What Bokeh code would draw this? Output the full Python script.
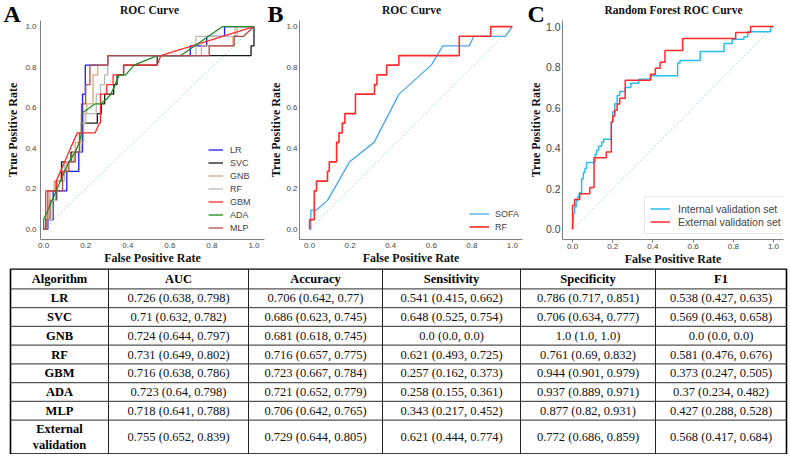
from bokeh.plotting import figure
from bokeh.layouts import row, column
from bokeh.models import Range1d, FixedTicker, Legend, LegendItem, PrintfTickFormatter, Title
from bokeh.core.properties import value
from bokeh.embed import file_html
from bokeh.resources import INLINE

TICKS = [0.0, 0.2, 0.4, 0.6, 0.8, 1.0]
DIAG = [0.0, 1.0]
PANEL_LETTERS = ["A", "B", "C"]
PANEL_TITLES = ["ROC Curve", "ROC Curve", "Random Forest ROC Curve"]

# ---------------- Panel A : ROC curves of the seven models ----------------
A_NAMES = ["LR", "SVC", "GNB", "RF", "GBM", "ADA", "MLP"]
LR_FPR = [0, 0.02, 0.02, 0.045, 0.045, 0.11, 0.11, 0.167, 0.167, 0.185, 0.185, 0.198, 0.198, 0.305, 0.305, 0.697, 0.697, 0.775, 0.775, 0.86, 0.86, 1.0]
LR_TPR = [0, 0, 0.048, 0.048, 0.19, 0.19, 0.286, 0.286, 0.381, 0.381, 0.667, 0.667, 0.81, 0.81, 0.857, 0.857, 0.905, 0.905, 0.952, 0.952, 1.0, 1.0]
SVC_FPR = [0, 0.01, 0.01, 0.03, 0.03, 0.06, 0.06, 0.085, 0.085, 0.13, 0.13, 0.18, 0.18, 0.255, 0.255, 0.274, 0.274, 0.29, 0.29, 0.333, 0.333, 0.349, 0.349, 0.38, 0.38, 0.54, 0.54, 0.986, 0.986, 1.0, 1.0]
SVC_TPR = [0, 0, 0.048, 0.048, 0.143, 0.143, 0.238, 0.238, 0.333, 0.333, 0.381, 0.381, 0.524, 0.524, 0.571, 0.571, 0.619, 0.619, 0.667, 0.667, 0.714, 0.714, 0.762, 0.762, 0.81, 0.81, 0.857, 0.857, 0.905, 0.905, 1.0]
GNB_FPR = [0, 0.01, 0.01, 0.03, 0.03, 0.05, 0.05, 0.08, 0.08, 0.11, 0.11, 0.15, 0.15, 0.19, 0.19, 0.205, 0.205, 0.235, 0.235, 0.257, 0.257, 0.305, 0.305, 0.75, 0.75, 0.9, 0.9, 0.92, 0.92, 1.0]
GNB_TPR = [0, 0, 0.048, 0.048, 0.19, 0.19, 0.238, 0.238, 0.286, 0.286, 0.333, 0.333, 0.429, 0.429, 0.571, 0.571, 0.619, 0.619, 0.762, 0.762, 0.81, 0.81, 0.857, 0.857, 0.905, 0.905, 0.952, 0.952, 1.0, 1.0]
RF_FPR = [0, 0.015, 0.015, 0.04, 0.04, 0.065, 0.065, 0.1, 0.1, 0.14, 0.14, 0.18, 0.18, 0.2, 0.2, 0.25, 0.25, 0.27, 0.27, 0.29, 0.29, 0.305, 0.305, 0.724, 0.724, 0.91, 0.91, 1.0]
RF_TPR = [0, 0, 0.048, 0.048, 0.143, 0.143, 0.238, 0.238, 0.333, 0.333, 0.381, 0.381, 0.524, 0.524, 0.571, 0.571, 0.667, 0.667, 0.714, 0.714, 0.762, 0.762, 0.857, 0.857, 0.952, 0.952, 1.0, 1.0]
GBM_FPR = [0, 0.01, 0.01, 0.06, 0.06, 0.08, 0.1, 0.12, 0.14, 0.16, 0.245, 0.265, 0.27, 0.27, 0.3, 0.3, 0.33, 0.33, 0.38, 0.38, 0.54, 0.557, 1.0]
GBM_TPR = [0, 0, 0.19, 0.19, 0.238, 0.286, 0.333, 0.381, 0.429, 0.476, 0.476, 0.524, 0.524, 0.667, 0.667, 0.714, 0.714, 0.762, 0.762, 0.81, 0.81, 0.857, 1.0]
ADA_FPR = [0, 0, 0.02, 0.04, 0.06, 0.08, 0.1, 0.12, 0.15, 0.17, 0.18, 0.18, 0.245, 0.27, 0.3, 0.32, 0.34, 0.36, 0.39, 0.43, 0.54, 0.652, 0.851, 1.0]
ADA_TPR = [0, 0.048, 0.095, 0.143, 0.19, 0.238, 0.286, 0.333, 0.381, 0.429, 0.476, 0.571, 0.619, 0.619, 0.643, 0.667, 0.714, 0.762, 0.762, 0.81, 0.857, 0.857, 1.0, 1.0]
MLP_FPR = [0, 0.01, 0.01, 0.02, 0.02, 0.09, 0.09, 0.12, 0.12, 0.15, 0.15, 0.17, 0.17, 0.18, 0.18, 0.2, 0.2, 0.22, 0.22, 0.305, 0.305, 0.787, 0.787, 0.906, 0.906, 0.95, 1.0]
MLP_TPR = [0, 0, 0.048, 0.048, 0.19, 0.19, 0.286, 0.286, 0.333, 0.333, 0.381, 0.381, 0.476, 0.476, 0.619, 0.619, 0.714, 0.714, 0.81, 0.81, 0.857, 0.857, 0.905, 0.905, 0.952, 0.952, 1.0]

# ---------------- Panel B : SOFA vs RF ----------------
B_NAMES = ["SOFA", "RF"]
SOFA_FPR = [0, 0.006, 0.006, 0.034, 0.088, 0.197, 0.318, 0.441, 0.6, 0.657, 0.787, 0.81, 0.966, 1.0]
SOFA_TPR = [0, 0, 0.095, 0.095, 0.143, 0.333, 0.429, 0.667, 0.81, 0.905, 0.905, 0.952, 0.952, 1.0]
RFB_FPR = [0, 0, 0.023, 0.023, 0.034, 0.034, 0.088, 0.088, 0.097, 0.097, 0.133, 0.133, 0.145, 0.145, 0.161, 0.161, 0.174, 0.174, 0.226, 0.226, 0.32, 0.32, 0.332, 0.332, 0.38, 0.38, 0.44, 0.44, 0.738, 0.738, 0.893, 0.893, 1.0]
RFB_TPR = [0, 0.048, 0.048, 0.19, 0.19, 0.238, 0.238, 0.286, 0.286, 0.333, 0.333, 0.429, 0.429, 0.476, 0.476, 0.524, 0.524, 0.571, 0.571, 0.667, 0.667, 0.714, 0.714, 0.762, 0.762, 0.81, 0.81, 0.857, 0.857, 0.952, 0.952, 1.0, 1.0]

# ---------------- Panel C : Random forest, internal vs external ----------------
C_NAMES = ["Internal validation set", "External validation set"]
INT_FPR = [0, 0.005, 0.01, 0.01, 0.018, 0.018, 0.025, 0.025, 0.033, 0.033, 0.045, 0.045, 0.054, 0.054, 0.062, 0.062, 0.07, 0.07, 0.112, 0.112, 0.12, 0.12, 0.13, 0.13, 0.145, 0.145, 0.155, 0.155, 0.193, 0.193, 0.2, 0.2, 0.21, 0.21, 0.222, 0.222, 0.235, 0.235, 0.262, 0.262, 0.29, 0.29, 0.33, 0.33, 0.39, 0.39, 0.523, 0.523, 0.535, 0.535, 0.635, 0.635, 0.754, 0.754, 0.795, 0.795, 0.853, 0.853, 0.872, 0.872, 0.986, 0.986, 1.0]
INT_TPR = [0, 0.08, 0.08, 0.11, 0.11, 0.14, 0.14, 0.16, 0.16, 0.18, 0.18, 0.25, 0.25, 0.28, 0.28, 0.30, 0.30, 0.33, 0.33, 0.37, 0.37, 0.39, 0.39, 0.41, 0.41, 0.43, 0.43, 0.445, 0.445, 0.53, 0.53, 0.58, 0.58, 0.62, 0.62, 0.66, 0.66, 0.68, 0.68, 0.70, 0.70, 0.72, 0.72, 0.74, 0.74, 0.757, 0.757, 0.82, 0.82, 0.833, 0.833, 0.877, 0.877, 0.917, 0.917, 0.937, 0.937, 0.95, 0.95, 0.974, 0.974, 1.0, 1.0]
EXT_FPR = [0, 0, 0.01, 0.01, 0.036, 0.036, 0.086, 0.086, 0.107, 0.107, 0.168, 0.168, 0.193, 0.193, 0.2, 0.2, 0.21, 0.21, 0.222, 0.222, 0.235, 0.235, 0.262, 0.262, 0.388, 0.388, 0.412, 0.412, 0.436, 0.436, 0.46, 0.46, 0.548, 0.548, 0.812, 0.812, 0.886, 0.886, 1.0]
EXT_TPR = [0, 0.118, 0.118, 0.147, 0.147, 0.176, 0.176, 0.206, 0.206, 0.353, 0.353, 0.382, 0.382, 0.529, 0.529, 0.559, 0.559, 0.588, 0.588, 0.618, 0.618, 0.647, 0.647, 0.735, 0.735, 0.765, 0.765, 0.794, 0.794, 0.824, 0.824, 0.882, 0.882, 0.941, 0.941, 0.971, 0.971, 1.0, 1.0]

# ---------------- Table ----------------
HEADERS = ["Algorithm", "AUC", "Accuracy", "Sensitivity", "Specificity", "F1"]
ALGOS = ["LR", "SVC", "GNB", "RF", "GBM", "ADA", "MLP", "External\nvalidation"]
AUC = ["0.726 (0.638, 0.798)", "0.71 (0.632, 0.782)", "0.724 (0.644, 0.797)", "0.731 (0.649, 0.802)",
       "0.716 (0.638, 0.786)", "0.723 (0.64, 0.798)", "0.718 (0.641, 0.788)", "0.755 (0.652, 0.839)"]
ACCURACY = ["0.706 (0.642, 0.77)", "0.686 (0.623, 0.745)", "0.681 (0.618, 0.745)", "0.716 (0.657, 0.775)",
            "0.723 (0.667, 0.784)", "0.721 (0.652, 0.779)", "0.706 (0.642, 0.765)", "0.729 (0.644, 0.805)"]
SENSITIVITY = ["0.541 (0.415, 0.662)", "0.648 (0.525, 0.754)", "0.0 (0.0, 0.0)", "0.621 (0.493, 0.725)",
               "0.257 (0.162, 0.373)", "0.258 (0.155, 0.361)", "0.343 (0.217, 0.452)", "0.621 (0.444, 0.774)"]
SPECIFICITY = ["0.786 (0.717, 0.851)", "0.706 (0.634, 0.777)", "1.0 (1.0, 1.0)", "0.761 (0.69, 0.832)",
               "0.944 (0.901, 0.979)", "0.937 (0.889, 0.971)", "0.877 (0.82, 0.931)", "0.772 (0.686, 0.859)"]
F1 = ["0.538 (0.427, 0.635)", "0.569 (0.463, 0.658)", "0.0 (0.0, 0.0)", "0.581 (0.476, 0.676)",
      "0.373 (0.247, 0.505)", "0.37 (0.234, 0.482)", "0.427 (0.288, 0.528)", "0.568 (0.417, 0.684)"]

SERIF = "Liberation Serif"
SANS = "Liberation Sans"

# layout constants (pixels)
TOTAL_W = 788
HEADER_STRIP_H = 28
HEADER_OVERLAP = 8
ROC_H = 248
ROC_BOTTOM = 29
PANEL_W = [266, 260, 262]
PANEL_LEFT = [40, 31, 35]
PANEL_RIGHT = [2, 4, 5]
TITLE_X = [149, 411, 673]
LETTER_X = [3, 267, 527]


def roc_figure(i, x_start, ytick_size="8px", ytick_gap=3, ytitle_gap=4, xtick_out=0):
    p = figure(width=PANEL_W[i], height=ROC_H, x_range=Range1d(x_start, 1.05), y_range=Range1d(-0.05, 1.03),
               output_backend="svg", toolbar_location=None,
               min_border_left=PANEL_LEFT[i], min_border_right=PANEL_RIGHT[i],
               min_border_top=0, min_border_bottom=ROC_BOTTOM)
    p.outline_line_color = None
    p.grid.visible = False
    p.background_fill_color = None
    p.border_fill_color = None
    for ax in (p.xaxis[0], p.yaxis[0]):
        ax.ticker = FixedTicker(ticks=TICKS)
        ax.formatter = PrintfTickFormatter(format="%.1f")
        ax.axis_line_color = "#808080"
        ax.axis_line_width = 1
        ax.minor_tick_line_color = None
        ax.minor_tick_out = 0
        ax.minor_tick_in = 0
        ax.major_tick_in = 0
        ax.major_label_text_font = SANS
        ax.major_label_text_color = "#444444"
        ax.axis_label_text_font = SERIF
        ax.axis_label_text_font_style = "bold"
        ax.axis_label_text_font_size = "12px"
        ax.axis_label_text_color = "#111111"
    p.xaxis.axis_label = "False Positive Rate"
    p.xaxis.major_label_text_font_size = "8px"
    p.yaxis.major_label_text_font_size = ytick_size
    p.yaxis.major_label_standoff = ytick_gap
    p.yaxis.major_tick_line_color = None
    p.yaxis.major_tick_out = 0
    p.xaxis.axis_label_standoff = 0
    if xtick_out:
        p.xaxis.major_tick_out = xtick_out
        p.xaxis.major_label_standoff = 1
        p.xaxis.major_tick_line_color = "#808080"
    else:
        p.xaxis.major_tick_out = 0
        p.xaxis.major_label_standoff = 3
        p.xaxis.major_tick_line_color = None
    p.add_layout(Title(text="True Positive Rate", align="center", text_font=SERIF, text_font_style="bold",
                       text_font_size="12px", text_color="#111111", standoff=ytitle_gap), "left")
    p.line(DIAG, DIAG, line_color="#a9d3e6", line_dash="2 2", line_width=1)
    return p


def legend_for(p, names, renderers, loc, glyph_w, standoff, font, item_h, padding=0,
               frame=False, label_w=20):
    items = [LegendItem(label=n, renderers=[r]) for n, r in zip(names, renderers)]
    lg = Legend(items=items, location=loc, padding=padding, margin=0, spacing=0,
                glyph_width=glyph_w, glyph_height=item_h, label_height=item_h,
                label_standoff=standoff, label_width=label_w,
                label_text_font=SANS, label_text_font_size=font, label_text_color="#444444")
    if frame:
        lg.border_line_color = "#d0d0d0"
        lg.border_line_width = 1
        lg.background_fill_color = "white"
        lg.background_fill_alpha = 1
    else:
        lg.border_line_color = None
        lg.background_fill_alpha = 0
    p.add_layout(lg)


# ---- header strip with panel letters and titles (transparent, overlapped by the plots) ----
pH = figure(width=TOTAL_W, height=HEADER_STRIP_H, x_range=Range1d(0, TOTAL_W),
            y_range=Range1d(HEADER_STRIP_H, 0), output_backend="svg", toolbar_location=None,
            x_axis_type=None, y_axis_type=None, min_border=0)
pH.outline_line_color = None
pH.grid.visible = False
pH.background_fill_color = None
pH.border_fill_color = None
pH.text(x=LETTER_X, y=[13.3] * 3, text=PANEL_LETTERS, text_font=value(SERIF),
        text_font_style="bold", text_font_size="24px", text_color="black",
        text_align="left", text_baseline="middle")
pH.text(x=TITLE_X, y=[9.8] * 3, text=PANEL_TITLES, text_font=value(SERIF),
        text_font_style="bold", text_font_size="11.5px", text_color="#111111",
        text_align="center", text_baseline="middle")

# ---- A ----
pA = roc_figure(0, -0.015, ytick_gap=4, ytitle_gap=5)
a_series = [(LR_FPR, LR_TPR, "#1a1aff"), (SVC_FPR, SVC_TPR, "#1a1a1a"), (GNB_FPR, GNB_TPR, "#d8a878"),
            (RF_FPR, RF_TPR, "#b8b8b8"), (GBM_FPR, GBM_TPR, "#ff2a2a"), (ADA_FPR, ADA_TPR, "#1e8c1e"),
            (MLP_FPR, MLP_TPR, "#b04a4a")]
a_r = [pA.line(fx, ty, line_color=c, line_width=1.3) for fx, ty, c in a_series]
legend_for(pA, A_NAMES, a_r, (168, 5), 15, 7, "9px", 13)

# ---- B ----
pB = roc_figure(1, -0.05, ytick_gap=2, ytitle_gap=1)
rb1 = pB.line(SOFA_FPR, SOFA_TPR, line_color="#4aa6ea", line_width=1.3)
rb2 = pB.line(RFB_FPR, RFB_TPR, line_color="#ff2a2a", line_width=1.6)
legend_for(pB, B_NAMES, [rb1, rb2], (170, 6), 20, 6, "9px", 13)

# ---- C ----
pC = roc_figure(2, -0.05, ytick_size="10.5px", ytick_gap=2, ytitle_gap=0, xtick_out=3)
rc1 = pC.line(INT_FPR, INT_TPR, line_color="#27bdf2", line_width=1.5)
rc2 = pC.line(EXT_FPR, EXT_TPR, line_color="#ff2a2a", line_width=1.5)
legend_for(pC, C_NAMES, [rc1, rc2], (82, 5), 20, 8, "10.5px", 13, padding=5, frame=True, label_w=100)

# ---- Table ----
COL_EDGES = [10, 108, 248, 382, 520, 655, 786]
TABLE_TOP = 0.4
HEADER_H = 20.0
ROW_H = 18.75
LAST_ROW_H = 33.8
TABLE_H = 186

row_edges = [TABLE_TOP, TABLE_TOP + HEADER_H]
for i in range(len(ALGOS)):
    row_edges.append(row_edges[-1] + (LAST_ROW_H if i == len(ALGOS) - 1 else ROW_H))

pT = figure(width=TOTAL_W, height=TABLE_H, x_range=Range1d(0, TOTAL_W), y_range=Range1d(TABLE_H, 0),
            output_backend="svg", toolbar_location=None, x_axis_type=None, y_axis_type=None,
            min_border=0)
pT.outline_line_color = None
pT.grid.visible = False

inner_y = row_edges[1:-1]
pT.segment(x0=[COL_EDGES[0]] * len(inner_y), x1=[COL_EDGES[-1]] * len(inner_y), y0=inner_y, y1=inner_y,
           line_color="#555555", line_width=1.1)
inner_x = COL_EDGES[1:-1]
pT.segment(x0=inner_x, x1=inner_x, y0=[row_edges[0]] * len(inner_x), y1=[row_edges[-1]] * len(inner_x),
           line_color="#222222", line_width=1)
pT.quad(left=[COL_EDGES[0]], right=[COL_EDGES[-1]], top=[row_edges[0]], bottom=[row_edges[-1]],
        fill_alpha=0, line_color="black", line_width=1.6)

cx = [(COL_EDGES[i] + COL_EDGES[i + 1]) / 2 for i in range(len(HEADERS))]
ry = [(row_edges[i] + row_edges[i + 1]) / 2 for i in range(len(row_edges) - 1)]

pT.text(x=cx, y=[ry[0]] * len(HEADERS), text=HEADERS, text_font=value(SERIF), text_font_style="bold",
        text_font_size="12.5px", text_align="center", text_baseline="middle", text_color="black")
pT.text(x=[cx[0]] * len(ALGOS), y=ry[1:], text=ALGOS, text_font=value(SERIF), text_font_style="bold",
        text_font_size="12.5px", text_align="center", text_baseline="middle", text_color="black",
        text_line_height=1.12)
for ci, col in enumerate([AUC, ACCURACY, SENSITIVITY, SPECIFICITY, F1], start=1):
    pT.text(x=[cx[ci]] * len(col), y=ry[1:], text=col, text_font=value(SERIF),
            text_font_size="12.5px", text_align="center", text_baseline="middle", text_color="#111111")

plots_row = row(pA, pB, pC, styles={"margin-top": f"-{HEADER_OVERLAP}px"})
layout = column(pH, plots_row, pT)

with open("out.html", "w") as f:
    f.write(file_html(layout, INLINE))
